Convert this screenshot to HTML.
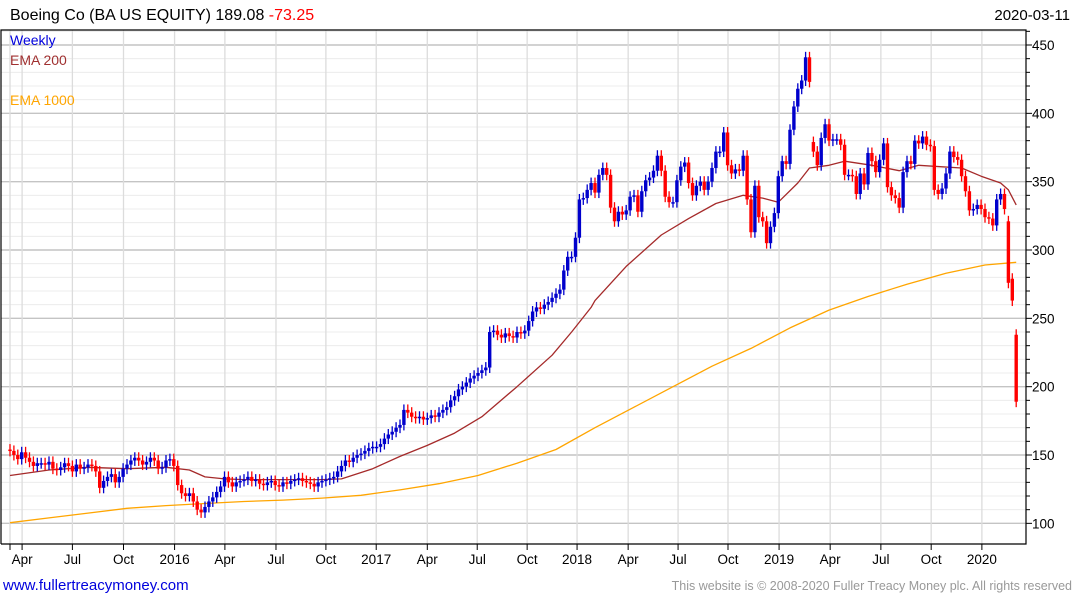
<!DOCTYPE html>
<html><head><meta charset="utf-8"><style>
body{margin:0;background:#fff;width:1075px;height:600px;overflow:hidden;font-family:"Liberation Sans",sans-serif}
svg{display:block}
</style></head><body>
<svg id="chart" width="1075" height="600" xmlns="http://www.w3.org/2000/svg" font-family="Liberation Sans, sans-serif">
<text x="10" y="20" font-size="16" fill="#000">Boeing Co (BA US EQUITY) 189.08 <tspan fill="#ff0000">-73.25</tspan></text>
<text x="1070" y="20" font-size="15" fill="#000" text-anchor="end">2020-03-11</text>
<g id="grid"></g>
<g id="emas"></g>
<g id="candles"></g>
<g id="axes"></g>
<text x="10" y="45" font-size="14" fill="#0000dd">Weekly</text>
<text x="10" y="65" font-size="14" fill="#a03030">EMA 200</text>
<text x="10" y="105" font-size="14" fill="#ffa500">EMA 1000</text>
<text x="3" y="590" font-size="15" fill="#0000dd">www.fullertreacymoney.com</text>
<text x="1072" y="590" font-size="12.5" fill="#999" text-anchor="end">This website is © 2008-2020 Fuller Treacy Money plc. All rights reserved</text>
</svg>
<script>
const closes=[153,150,147,152,148,145,142,144,144,143,145,140,139,141,144,142,138,143,140,141,143,142,138,126,131,134,136,130,134,140,143,146,148,146,143,145,148,146,140,141,146,147,142,
128,122,120,122,116,110,108,112,116,119,123,127,134,130,127,130,131,132,134,131,132,129,128,130,131,128,127,130,129,131,132,133,131,130,129,127,130,131,132,
133,134,138,142,146,145,148,150,151,153,155,156,
156,158,162,165,167,170,172,183,181,178,177,178,176,177,
179,178,181,183,185,190,193,198,200,203,206,208,210,
212,214,240,241,238,236,239,237,236,240,239,241,248,
255,258,257,260,262,265,268,
271,285,295,295,309,337,338,344,349,342,355,360,355,331,321,328,326,329,339,340,328,343,351,353,358,369,358,339,335,335,351,361,364,349,340,347,350,344,350,360,372,372,386,362,356,359,358,369,
337,313,347,324,321,305,317,327,354,365,363,388,405,418,424,441,423,372,362,382,392,380,381,381,377,355,355,354,341,356,348,371,365,357,366,378,346,340,338,331,357,365,363,380,378,383,377,376,344,341,345,356,372,368,366,354,343,329,330,333,330,324,323,318,337,341,330,276,263,189];
const openOverrides={206:379,256:321,257:279,258:238};
const ema200Weeks=[0,10,20,30,40,46,50,55,60,70,80,85,93,100,107,114,121,130,139,144,149,150,158,167,174,181,188,193,197,202,205,210,214,221,228,233,244,249,254,256,258];
const ema200=[135,139,141,140,141,139,134,132.5,132,132,132,132.5,140,149,157,166,178,200,223,240,258,263,288,311,323,334,340,338,335,349,360,362,365,362,358,362,360,354,349,344,333];
const ema1000Weeks=[0,10,20,30,40,50,60,70,80,90,100,110,120,130,140,150,160,170,180,190,200,210,220,230,240,250,258];
const ema1000=[100.5,104,107.5,111,113,114.5,116,117,118.5,120.5,124.5,129,135,144,154,170,185,200,215,228,243,256,266,275,283,289,291];
const yTicks=[100,150,200,250,300,350,400,450];
const xLabels=["Apr","Jul","Oct","2016","Apr","Jul","Oct","2017","Apr","Jul","Oct","2018","Apr","Jul","Oct","2019","Apr","Jul","Oct","2020"];
const xLabelWeeks=[3.1,16.0,29.1,42.2,55.1,68.2,81.0,93.9,107.0,119.8,132.6,145.4,158.5,171.3,184.1,197.2,210.3,223.3,236.2,249.2];

const NS="http://www.w3.org/2000/svg";
const L=1,R=1026,T=30,B=544;
const xs=i=>10+i*3.9;
const ys=v=>45+(450-v)*1.3667;
function mk(tag,attrs,parent){const e=document.createElementNS(NS,tag);for(const k in attrs)e.setAttribute(k,attrs[k]);parent.appendChild(e);return e;}
const grid=document.getElementById('grid'),axes=document.getElementById('axes'),cg=document.getElementById('candles'),eg=document.getElementById('emas');
for(let v=100;v<=460;v+=10){const y=ys(v);if(y<T||y>B)continue;
 const ln=mk('line',{x1:L,x2:R,y1:y,y2:y,stroke:v%50===0?'#c4c4c4':'#ececec','stroke-width':v%50===0?1.4:1},grid);
 
 
 const tk=mk('line',{x1:R,x2:R+(v%50===0?6:4),y1:y,y2:y,stroke:'#000'},axes);
 
 
}
const vg=[0].concat(xLabelWeeks);
vg.forEach(w=>{const x=xs(w);const ln=mk('line',{x1:x,x2:x,y1:T,y2:B,stroke:'#dcdcdc','stroke-width':1.3},grid);
 
 
 const tk=mk('line',{x1:x,x2:x,y1:B,y2:B+6,stroke:'#000'},axes);
 
 
});
xLabels.forEach((t,k)=>{const tx=mk('text',{x:xs(xLabelWeeks[k]),y:564,'font-size':13.5,'text-anchor':'middle',fill:'#000'},axes);tx.textContent=t;
 
 
});
yTicks.forEach(v=>{const tx=mk('text',{x:1032,y:ys(v)+5,'font-size':13.5,fill:'#000'},axes);tx.textContent=v;
 
 
});
const fr=mk('path',{d:`M${L},${B} L${L},${T} L${R},${T} L${R},${B} L${L},${B}`,fill:'none',stroke:'#000','stroke-width':1.2},axes);


function line(weeks,arr,color,name){const d=arr.map((v,k)=>(k?'L':'M')+xs(weeks[k]).toFixed(1)+','+ys(v).toFixed(1)).join(' ');
 const p=mk('path',{d:d,fill:'none',stroke:color,'stroke-width':1.3,'stroke-linejoin':'round'},eg);
 
 }
line(ema1000Weeks,ema1000,'#ffa500','ema-1000-line');
line(ema200Weeks,ema200,'#a52a2a','ema-200-line');
closes.forEach((c,i)=>{
 const o=openOverrides[i]!==undefined?openOverrides[i]:(i?closes[i-1]:c+1);
 const up=c>=o,col=up?'#0000cc':'#ff0000';
 const hi=Math.max(o,c)+4,lo=Math.min(o,c)-4,x=xs(i);
 const g=mk('g',{},cg);
 
 
 mk('line',{x1:x,x2:x,y1:ys(hi),y2:ys(lo),stroke:col,'stroke-width':1.3},g);
 const top=ys(Math.max(o,c)),h=Math.max(1.5,ys(Math.min(o,c))-top);
 mk('rect',{x:x-1.7,y:top,width:3.4,height:h,fill:col},g);
});
</script>
</body></html>
